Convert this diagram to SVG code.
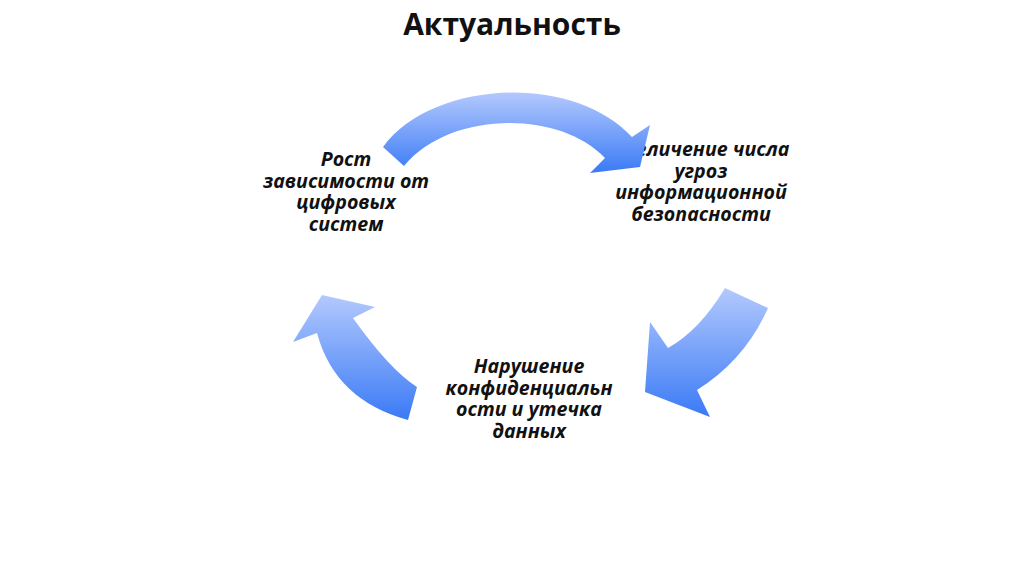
<svg xmlns="http://www.w3.org/2000/svg" width="1024" height="576" viewBox="0 0 1024 576">
<style>
.t{font-family:"Open Sans","Noto Sans","DejaVu Sans",sans-serif;font-weight:bold;font-style:italic;font-size:19.6px;fill:#111;text-anchor:middle}
.title{font-family:"Open Sans","Noto Sans","DejaVu Sans",sans-serif;font-weight:bold;font-size:30px;fill:#111;text-anchor:middle}
.arr{fill:url(#g)}
</style>
<defs>
<linearGradient id="g" x1="0" y1="0" x2="0" y2="1">
<stop offset="0" stop-color="#b3c9fd"/>
<stop offset="1" stop-color="#3a7af6"/>
</linearGradient>
</defs>
<rect width="1024" height="576" fill="#fff"/>
<text class="title" x="512" y="35">Актуальность</text>
<g id="node-growth">
<text class="t" x="346" y="166"><tspan x="346">Рост</tspan><tspan x="346" dy="21.5">зависимости от</tspan><tspan x="346" dy="21.5">цифровых</tspan><tspan x="346" dy="21.5">систем</tspan></text>
</g>
<g id="node-threats">
<text class="t" x="701" y="156"><tspan x="701">Увеличение числа</tspan><tspan x="701" dy="21.5">угроз</tspan><tspan x="701" dy="21.5">информационной</tspan><tspan x="701" dy="21.5">безопасности</tspan></text>
</g>
<g id="node-breach">
<text class="t" x="529" y="373"><tspan x="529">Нарушение</tspan><tspan x="529" dy="21.5">конфиденциальн</tspan><tspan x="529" dy="21.5">ости и утечка</tspan><tspan x="529" dy="21.5">данных</tspan></text>
</g>
<g id="connectors">
<path class="arr" d="M383,147 C430,82 570,71 632,137 L650,125 L640,167 L590,173 L605,158 C560,110 450,110 404,166 Z"/>
<path class="arr" d="M725,288 L768,308 Q745,360 697,390 L710,417 L645,392 L650,322 L668,348 Q700,330 725,288 Z"/>
<path class="arr" d="M417,387 L408,420 Q335,400 317,333 L293,342 L322,295 L375,307 L353,318 Q390,370 417,387 Z"/>
</g>
</svg>
